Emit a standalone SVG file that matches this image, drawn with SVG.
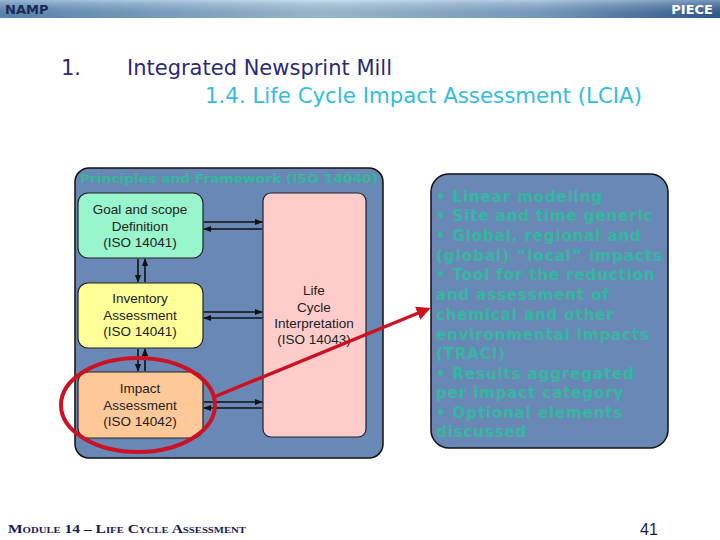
<svg xmlns="http://www.w3.org/2000/svg" width="720" height="540" viewBox="0 0 720 540">
<defs>
<linearGradient id="hdr" x1="0" y1="0" x2="1" y2="0">
<stop offset="0" stop-color="#5d8fc0"/>
<stop offset="0.45" stop-color="#a9cbe4"/>
<stop offset="0.75" stop-color="#7fa9d0"/>
<stop offset="1" stop-color="#2f5f98"/>
</linearGradient>
<linearGradient id="hdrv" x1="0" y1="0" x2="0" y2="1">
<stop offset="0" stop-color="#ffffff" stop-opacity="0.35"/>
<stop offset="1" stop-color="#000000" stop-opacity="0.1"/>
</linearGradient>
<marker id="ah" viewBox="0 0 10 10" refX="9" refY="5" markerWidth="5" markerHeight="5" orient="auto-start-reverse">
<path d="M0,1 L10,5 L0,9 z" fill="#111"/>
</marker>
<marker id="rah" viewBox="0 0 10 10" refX="8" refY="5" markerWidth="4" markerHeight="4" orient="auto">
<path d="M0,0 L10,5 L0,10 z" fill="#cc1122"/>
</marker>
</defs>
<style>
.box{stroke:#222;stroke-width:1.2}
.panel{fill:#6a88b6;stroke:#111;stroke-width:1.5}
.lbl{font-family:"Liberation Sans",Arial,sans-serif;font-size:13.5px;fill:#222;text-anchor:middle}
.conn{stroke:#111;stroke-width:1.6;fill:none;marker-end:url(#ah)}
.rt{font-family:"DejaVu Sans","Liberation Sans",sans-serif;font-weight:bold;font-size:15px;letter-spacing:0.9px;fill:#33b8a0}
</style>
<rect width="720" height="540" fill="#ffffff"/>
<g id="header">
<rect x="0" y="0" width="720" height="18" fill="url(#hdr)"/>
<rect x="0" y="0" width="720" height="18" fill="url(#hdrv)"/>
<text x="5" y="13.5" font-family="DejaVu Sans,sans-serif" font-weight="bold" font-size="13" fill="#1a2a58">NAMP</text>
<text x="713" y="13.5" font-family="DejaVu Sans,sans-serif" font-weight="bold" font-size="13" fill="#ffffff" text-anchor="end">PIECE</text>
</g>
<g id="title">
<text x="61" y="75" font-family="DejaVu Sans,sans-serif" font-size="21" fill="#2a2a78">1.</text>
<text x="127" y="75" font-family="DejaVu Sans,sans-serif" font-size="21" fill="#2a2a78">Integrated Newsprint Mill</text>
<text x="205" y="103" font-family="DejaVu Sans,sans-serif" font-size="21" fill="#33bde0" textLength="437" lengthAdjust="spacingAndGlyphs">1.4. Life Cycle Impact Assessment (LCIA)</text>
</g>
<g id="framework">
<rect class="panel" x="75" y="168" width="308" height="290" rx="14"/>
<text x="80" y="183" font-family="DejaVu Sans,sans-serif" font-weight="bold" font-size="12.5" fill="#33b89a" textLength="298" lengthAdjust="spacingAndGlyphs">Principles and Framework (ISO 14040)</text>
</g>
<g id="goal">
<rect class="box" x="78" y="193" width="125" height="65" rx="10" fill="#99f5cc"/>
<text class="lbl" x="140" y="214">Goal and scope</text>
<text class="lbl" x="140" y="231">Definition</text>
<text class="lbl" x="140" y="247" font-size="12.5">(ISO 14041)</text>
</g>
<g id="inventory">
<rect class="box" x="78" y="283" width="125" height="65" rx="10" fill="#ffff99"/>
<text class="lbl" x="140" y="303">Inventory</text>
<text class="lbl" x="140" y="320">Assessment</text>
<text class="lbl" x="140" y="336" font-size="12.5">(ISO 14041)</text>
</g>
<g id="impact">
<rect class="box" x="78" y="372" width="125" height="66" rx="10" fill="#ffc898"/>
<text class="lbl" x="140" y="393">Impact</text>
<text class="lbl" x="140" y="410">Assessment</text>
<text class="lbl" x="140" y="426" font-size="12.5">(ISO 14042)</text>
</g>
<g id="interpretation">
<rect class="box" x="263" y="193" width="103" height="244" rx="8" fill="#ffcccc"/>
<text class="lbl" x="314" y="295">Life</text>
<text class="lbl" x="314" y="312">Cycle</text>
<text class="lbl" x="314" y="328">Interpretation</text>
<text class="lbl" x="314" y="344" font-size="12.5">(ISO 14043)</text>
</g>
<g id="connectors">
<line class="conn" x1="204" y1="222" x2="262" y2="222"/>
<line class="conn" x1="262" y1="229" x2="204" y2="229"/>
<line class="conn" x1="204" y1="312" x2="262" y2="312"/>
<line class="conn" x1="262" y1="318" x2="204" y2="318"/>
<line class="conn" x1="204" y1="402" x2="262" y2="402"/>
<line class="conn" x1="262" y1="408" x2="204" y2="408"/>
<line class="conn" x1="138" y1="259" x2="138" y2="282"/>
<line class="conn" x1="145" y1="282" x2="145" y2="259"/>
<line class="conn" x1="138" y1="349" x2="138" y2="371"/>
<line class="conn" x1="145" y1="371" x2="145" y2="349"/>
<ellipse cx="138" cy="405" rx="77" ry="47" fill="none" stroke="#cc1122" stroke-width="4"/>
<line x1="214" y1="397" x2="428" y2="309" stroke="#cc1122" stroke-width="3.5" marker-end="url(#rah)"/>
</g>
<g id="notes">
<rect class="panel" x="431" y="174" width="237" height="274" rx="18"/>
<text class="rt" x="436" y="202">• Linear modeling</text>
<text class="rt" x="436" y="221">• Site and time generic</text>
<text class="rt" x="436" y="241">• Global, regional and</text>
<text class="rt" x="436" y="261" textLength="227" lengthAdjust="spacingAndGlyphs">(global) “local” impacts</text>
<text class="rt" x="436" y="280">• Tool for the reduction</text>
<text class="rt" x="436" y="300">and assessment of</text>
<text class="rt" x="436" y="320">chemical and other</text>
<text class="rt" x="436" y="340">environmental impacts</text>
<text class="rt" x="436" y="359">(TRACI)</text>
<text class="rt" x="436" y="379">• Results aggregated</text>
<text class="rt" x="436" y="398">per impact category</text>
<text class="rt" x="436" y="418">• Optional elements</text>
<text class="rt" x="436" y="437">discussed</text>
</g>
<g id="footer">
<text x="8" y="533" font-family="Liberation Serif,serif" font-weight="bold" font-size="13" fill="#1a1a5a" style="font-variant:small-caps" textLength="238" lengthAdjust="spacingAndGlyphs">Module 14 – Life Cycle Assessment</text>
<text x="640" y="535" font-family="Liberation Sans,sans-serif" font-size="16" fill="#1a1a5a">41</text>
</g>
</svg>
